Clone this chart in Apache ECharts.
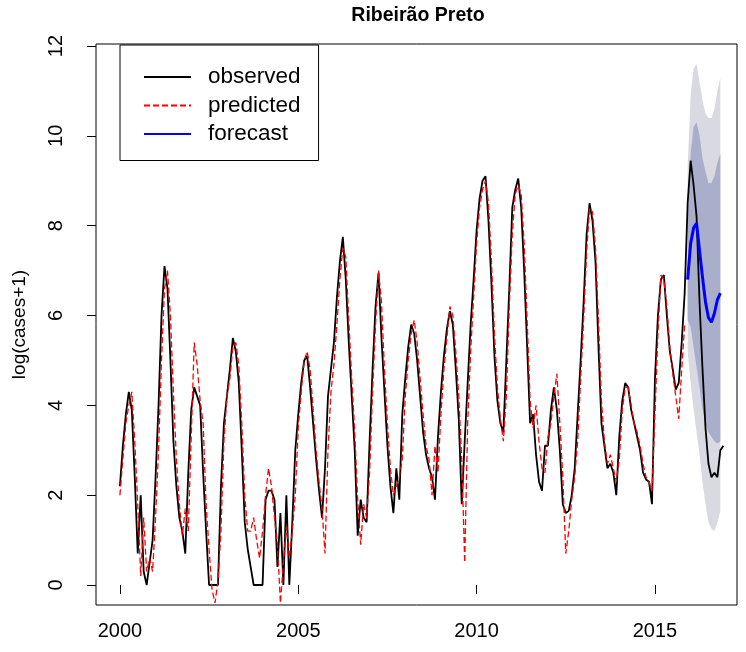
<!DOCTYPE html>
<html>
<head>
<meta charset="utf-8">
<script src="https://cdn.jsdelivr.net/npm/echarts@6/dist/echarts.min.js"></script>
<style>
html,body{margin:0;padding:0;background:#fff;}
#chart{width:746px;height:652px;}
</style>
</head>
<body>
<div id="chart"></div>
<script>
// ---- data (monthly, log(cases+1)) ----
const startYear = 2000;
const observed = [
  2.2, 3.1, 3.8, 4.3, 3.9, 2.4, 0.7, 2.0, 0.3, 0, 0.5, 1.0,
  2.4, 4.0, 6.0, 7.1, 6.6, 5.0, 3.2, 2.2, 1.5, 1.2, 0.7, 2.5,
  3.9, 4.4, 4.2, 4.0, 2.5, 1.2, 0, 0, 0, 0, 2.2, 3.6,
  4.2, 4.8, 5.5, 5.2, 4.5, 3.0, 1.4, 0.8, 0.4, 0, 0, 0,
  0, 1.9, 2.1, 2.1, 1.9, 0.4, 1.6, 0, 2.0, 0, 1.4, 3.0,
  3.8, 4.5, 5.0, 5.1, 4.4, 3.6, 2.8, 2.1, 1.5, 2.6, 4.2, 4.8,
  5.4, 6.4, 7.2, 7.75, 6.8, 5.4, 4.2, 3.0, 1.1, 1.9, 1.5, 1.4,
  3.2, 4.8, 6.2, 6.95, 5.5, 4.3, 3.1, 2.2, 1.6, 2.6, 1.9, 3.8,
  4.6, 5.3, 5.8, 5.6, 5.0, 4.2, 3.4, 2.9, 2.6, 2.4, 1.9, 3.3,
  4.3, 5.1, 5.7, 6.1, 5.8, 4.8, 3.7, 1.8, 3.2, 4.5, 5.8, 6.8,
  7.9, 8.6, 9.0, 9.1, 8.1, 6.7, 5.1, 4.1, 3.6, 3.4, 5.0, 6.6,
  8.4, 8.8, 9.05, 8.4, 7.0, 5.3, 3.6, 3.8, 2.9, 2.3, 2.1, 3.1,
  3.1, 3.9, 4.4, 3.9, 3.0, 1.8, 1.6, 1.65, 2.0, 2.6, 3.8, 5.0,
  6.3, 7.8, 8.5, 8.1, 7.2, 5.3, 3.6, 3.1, 2.6, 2.7, 2.5, 2.0,
  3.3, 4.1, 4.5, 4.4, 3.9, 3.6, 3.3, 3.0, 2.5, 2.35, 2.3, 1.8,
  4.6, 6.0, 6.8, 6.9, 6.0, 5.2, 4.8, 4.35, 4.5, 5.4, 6.5, 8.5,
  9.45, 8.9, 8.2, 6.3, 4.8, 3.5, 2.7, 2.4, 2.5, 2.4, 3.0, 3.1
];
const predicted = [
  2.0, 2.8, 3.6, 4.0, 4.3, 3.2, 1.8, 0.2, 1.5, 0.3, 0.6, 0.3,
  1.5, 3.0, 5.0, 6.6, 7.0, 6.0, 4.3, 2.8, 1.8, 1.1, 1.7, 1.2,
  3.3, 5.4, 4.9, 4.1, 3.6, 1.8, 0.8, -0.1, -0.4, 0.1, 1.2, 3.2,
  4.2, 4.6, 5.3, 5.4, 4.9, 3.6, 2.0, 1.2, 1.2, 1.5, 1.0, 0.6,
  1.2, 2.0, 2.6, 2.2, 1.5, 0.9, -0.4, 0.5, 1.3, 0.6, 1.2, 2.0,
  3.5, 4.3, 5.0, 5.2, 4.8, 3.9, 3.0, 2.3, 1.7, 0.7, 3.0, 4.3,
  4.9, 5.8, 6.8, 7.5, 7.3, 5.9, 4.6, 3.4, 1.9, 0.9, 1.8, 1.5,
  2.5, 4.3, 5.8, 7.0, 6.3, 4.8, 3.6, 2.6, 2.0, 2.2, 2.4, 2.8,
  4.2, 5.0, 5.6, 5.9, 5.4, 4.6, 3.8, 3.1, 2.8, 2.0, 3.1, 2.5,
  3.8, 4.8, 5.5, 6.2, 6.0, 5.2, 4.2, 2.8, 0.5, 3.6, 5.2, 6.4,
  7.6, 8.4, 8.8, 9.0, 8.5, 7.2, 5.6, 4.4, 3.7, 3.2, 4.2, 6.2,
  7.8, 8.7, 8.9, 8.7, 7.6, 5.9, 4.1, 3.5, 4.0, 3.2, 2.6, 2.5,
  3.3, 3.6, 4.2, 4.7, 3.6, 2.4, 0.7, 1.2, 1.9, 2.4, 3.2, 4.6,
  5.9, 7.4, 8.4, 8.3, 7.5, 5.9, 4.1, 3.2, 2.7, 2.9, 2.6, 2.3,
  2.8, 3.9, 4.4, 4.4, 4.0, 3.6, 3.4, 3.1, 2.7, 2.4, 2.3, 2.1,
  3.8, 5.6, 6.9, 6.8, 6.2, 5.3, 4.7, 4.2, 3.7, 4.8, 5.8
];
// forecast: Dec 2015 .. Nov 2016
const forecastStartIndex = 191; // months after Jan 2000
const forecastMean = [6.8, 7.6, 7.95, 8.05, 7.45, 6.85, 6.3, 5.95, 5.85, 6.05, 6.35, 6.5];
const upper95 = [9.3, 10.9, 11.5, 11.6, 11.2, 10.8, 10.5, 10.4, 10.4, 10.6, 11.0, 11.3];
const upper80 = [8.0, 9.6, 10.2, 10.3, 10.0, 9.5, 9.2, 8.95, 8.95, 9.1, 9.4, 9.6];
const lower80 = [5.9, 5.75, 5.3, 4.85, 4.4, 3.9, 3.6, 3.4, 3.3, 3.2, 3.15, 3.2];
const lower95 = [5.2, 4.5, 3.9, 3.4, 2.9, 2.3, 1.8, 1.4, 1.25, 1.2, 1.4, 1.65];
const xTicks = [2000, 2005, 2010, 2015];
const yTicks = [0, 2, 4, 6, 8, 10, 12];

// ---- build series data ----
const t = i => startYear + i / 12;
const obsData = observed.map((v, i) => [t(i), v]);
const predData = predicted.map((v, i) => [t(i), v]);
const fcT = i => t(forecastStartIndex + i);
const fcData = forecastMean.map((v, i) => [fcT(i), v]);
const band95 = lower95.map((v, i) => [fcT(i), v, upper95[i]]);
const band80 = lower80.map((v, i) => [fcT(i), v, upper80[i]]);

function bandRenderer(color) {
  return function (params, api) {
    if (params.dataIndex !== 0) return null;
    const data = params.seriesIndex === 0 ? band95 : band80;
    const pts = [];
    for (let i = 0; i < data.length; i++) pts.push(api.coord([data[i][0], data[i][2]]));
    for (let i = data.length - 1; i >= 0; i--) pts.push(api.coord([data[i][0], data[i][1]]));
    return {type: 'polygon', shape: {points: pts}, style: {fill: color, stroke: null}};
  };
}

const FONT = "'Liberation Sans', Arial, sans-serif";
const chart = echarts.init(document.getElementById('chart'), null, {renderer: 'canvas'});
chart.setOption({
  animation: false,
  backgroundColor: '#ffffff',
  title: {
    text: 'Ribeirão Preto',
    left: 418, top: 6, textAlign: 'center', padding: 0,
    textStyle: {fontFamily: FONT, fontSize: 19.5, fontWeight: 'bold', color: '#000'}
  },
  legend: {
    orient: 'vertical', left: 120, top: 45,
    data: ['observed', 'predicted', 'forecast'],
    backgroundColor: '#fff', borderColor: '#000', borderWidth: 1, borderRadius: 0,
    padding: [20.5, 18, 15, 23],
    itemWidth: 47, itemHeight: 14, itemGap: 5.5,
    itemStyle: {opacity: 0},
    textStyle: {fontFamily: FONT, fontSize: 22.5, color: '#000', lineHeight: 20, padding: [0, 0, 0, 12]},
    z: 10
  },
  grid: {left: 96, right: 9, top: 44, bottom: 47, show: true, borderColor: '#000', borderWidth: 1, backgroundColor: 'transparent'},
  xAxis: {
    type: 'value', min: 1999.33, max: 2017.3,
    axisLine: {show: false},
    axisTick: {show: true, length: 9, lineStyle: {color: '#000'}, customValues: xTicks},
    axisLabel: {show: true, margin: 16, fontFamily: FONT, fontSize: 20, color: '#000', customValues: xTicks,
      formatter: v => String(v)},
    splitLine: {show: false}
  },
  yAxis: {
    type: 'value', min: -0.445, max: 12.045,
    name: 'log(cases+1)', nameLocation: 'middle', nameGap: 67, nameRotate: 90,
    nameTextStyle: {fontFamily: FONT, fontSize: 19, color: '#000'},
    axisLine: {show: false},
    axisTick: {show: true, length: 9, lineStyle: {color: '#000'}, customValues: yTicks},
    axisLabel: {show: true, rotate: 90, margin: 30, fontFamily: FONT, fontSize: 20, color: '#000', customValues: yTicks,
      formatter: v => String(v)},
    splitLine: {show: false}
  },
  series: [
    {name: 'band95', type: 'custom', data: band95, renderItem: bandRenderer('#d9d9e2'),
      encode: {x: 0, y: [1, 2]}, clip: true, silent: true, z: 1},
    {name: 'band80', type: 'custom', data: band80, renderItem: bandRenderer('#a9aecb'),
      encode: {x: 0, y: [1, 2]}, clip: true, silent: true, z: 2},
    {name: 'observed', type: 'line', data: obsData, symbol: 'none', z: 4,
      lineStyle: {color: '#000', width: 1.8}, itemStyle: {color: '#000'}},
    {name: 'predicted', type: 'line', data: predData, symbol: 'none', z: 5,
      lineStyle: {color: '#ff0000', width: 1.3, type: [6, 3]}, itemStyle: {color: '#ff0000'}},
    {name: 'forecast', type: 'line', data: fcData, symbol: 'none', z: 6,
      lineStyle: {color: '#0000ff', width: 3}, itemStyle: {color: '#0000ff'}}
  ]
});
</script>
</body>
</html>
